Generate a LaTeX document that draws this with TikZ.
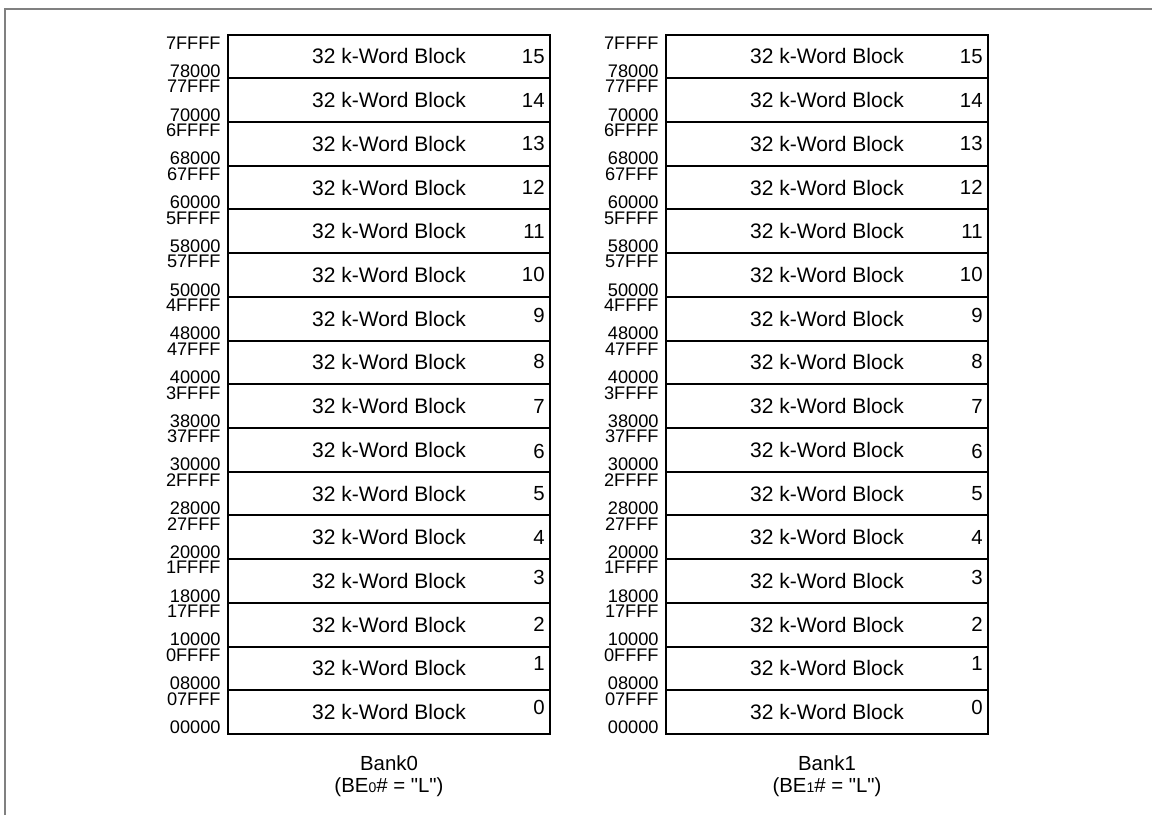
\documentclass[tikz,border=0pt]{standalone}
\usepackage{fontspec}
\setmainfont{Liberation Sans}
\usetikzlibrary{positioning}
\tikzset{
  blockbox/.style={draw, line width=1pt, minimum width=161pt, minimum height=21.86pt, inner sep=0pt, font=\fontsize{10.5}{12}\selectfont},
  addrlabel/.style={inner sep=0pt, font=\fontsize{9.1}{11}\selectfont},
  nrlabel/.style={inner sep=0pt, anchor=east, font=\fontsize{10.2}{12}\selectfont},
  banklabel/.style={align=center, inner sep=0pt, font=\fontsize{10.2}{11.2}\selectfont},
}
\begin{document}
\begin{tikzpicture}[x=0.5pt,y=-0.5pt]
  \useasboundingbox (0,0) rectangle (1152,815);

  % Rahmen
  \draw[gray, line width=0.8pt] (5,815) -- (5,9) -- (1152,9);

  % Baenke mit je 16 Bloecken
  \foreach \b/\o in {0/0,1/438} {
    \foreach \i/\hi/\lo/\dy in {0/07FFF/00000/2.5, 1/0FFFF/08000/2.5, 2/17FFF/10000/0,
        3/1FFFF/18000/2, 4/27FFF/20000/0, 5/2FFFF/28000/0, 6/37FFF/30000/-1,
        7/3FFFF/38000/0, 8/47FFF/40000/0.5, 9/4FFFF/48000/1.5, 10/57FFF/50000/0,
        11/5FFFF/58000/0, 12/67FFF/60000/0, 13/6FFFF/68000/0, 14/77FFF/70000/0,
        15/7FFFF/78000/0} {
      \node[blockbox] (blk\b-\i) at (389+\o, {34.5+(15-\i)*43.72+21.86}) {32 k-Word Block};
      \node[nrlabel] (nr\b-\i) at ([xshift=-3pt, yshift=\dy pt]blk\b-\i.east) {\i};
      % Adressen
      \node[addrlabel, anchor=north east] (hi\b-\i) at ([xshift=-3pt, yshift=-1.4pt]blk\b-\i.north west) {\hi};
      \node[addrlabel, anchor=base east] (lo\b-\i) at ([xshift=-3pt, yshift=0.9pt]blk\b-\i.south west) {\lo};
    }
    \node[banklabel, anchor=north] (bank\b) at (389+\o, 755) {Bank\b\\(BE{\fontsize{7}{8}\selectfont\b}\# = \textquotedbl L\textquotedbl)};
  }
\end{tikzpicture}
\end{document}
